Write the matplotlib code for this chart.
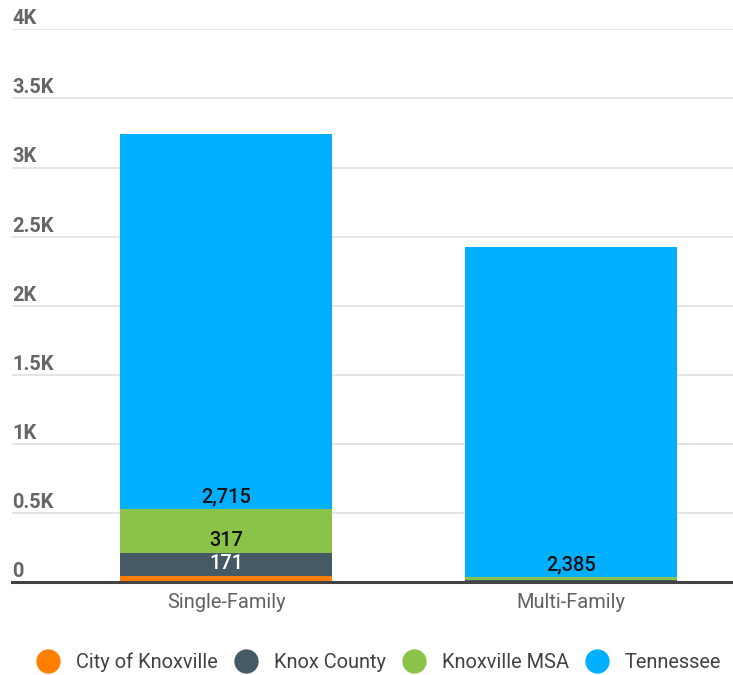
import matplotlib
matplotlib.use("Agg")
import matplotlib.pyplot as plt
from matplotlib.lines import Line2D
from matplotlib.transforms import blended_transform_factory
import numpy as np

plt.rcParams["font.family"] = ["Roboto", "DejaVu Sans"]

# permits by building type, stacked by area
categories = ["Single-Family", "Multi-Family"]
series_names = ["City of Knoxville", "Knox County", "Knoxville MSA", "Tennessee"]
city = [42, 5]
county = [171, 11]
msa = [317, 22]
tennessee = [2715, 2385]

colors = ["#FF7F00", "#455A64", "#8BC34A", "#00B0FF"]
label_colors = [None, "white", "#111111", "#111111"]

y_ticks = [0, 500, 1000, 1500, 2000, 2500, 3000, 3500, 4000]
y_tick_labels = ["0", "0.5K", "1K", "1.5K", "2K", "2.5K", "3K", "3.5K", "4K"]

FS = 14.4
W, H = 733, 675
fig = plt.figure(figsize=(W / 100, H / 100), dpi=100)
ax = fig.add_axes([12 / W, (H - 582.3) / H, (W - 12) / W, (582.3 - 29.3) / H])

x = np.arange(len(categories))
width = 0.616
bottom = np.zeros(len(categories))
for name, vals, col, lcol in zip(series_names, [city, county, msa, tennessee], colors, label_colors):
    vals = np.array(vals, dtype=float)
    ax.bar(x, vals, width, bottom=bottom, color=col, zorder=2, label=name)
    if lcol is not None:
        for xi, v, b in zip(x, vals, bottom):
            if v < 100:
                continue
            ax.annotate(f"{int(v):,}", xy=(xi, b), xytext=(0, 9.0),
                        textcoords="offset points", ha="center", va="center",
                        fontsize=FS, fontweight="medium", color=lcol, zorder=3)
    bottom += vals

ax.set_xlim(-0.621, 1.470)
ax.set_ylim(0, 4000)

# horizontal grid with labels sitting above each line
for t in y_ticks[1:]:
    ax.axhline(t, color="#e0e0e0", lw=1.2, zorder=1)
trans = blended_transform_factory(ax.transAxes, ax.transData)
for t, lab in zip(y_ticks, y_tick_labels):
    ax.annotate(lab, xy=(0, t), xycoords=trans, xytext=(0, 0.8),
                textcoords="offset points", ha="left", va="bottom",
                fontsize=FS, fontweight="bold", color="#666666")

ax.set_yticks([])
ax.set_xticks(x)
ax.set_xticklabels(categories, fontsize=FS, color="#616161")
ax.tick_params(axis="x", length=0, pad=7.5)
for s in ["top", "right", "left"]:
    ax.spines[s].set_visible(False)
ax.spines["bottom"].set_color("#424242")
ax.spines["bottom"].set_linewidth(2.2)
ax.spines["bottom"].set_zorder(4)

handles = [Line2D([], [], marker="o", ls="none", markersize=16.5,
                  markerfacecolor=c, markeredgecolor=c) for c in colors]
fig.legend(handles, series_names, loc="center",
           bbox_to_anchor=(0.5 + 12 / W, (H - 662) / H),
           ncol=4, frameon=False, fontsize=FS, labelcolor="#424242",
           handletextpad=0.8, columnspacing=0.8, handlelength=1.2)

fig.savefig("out.png", dpi=100)
